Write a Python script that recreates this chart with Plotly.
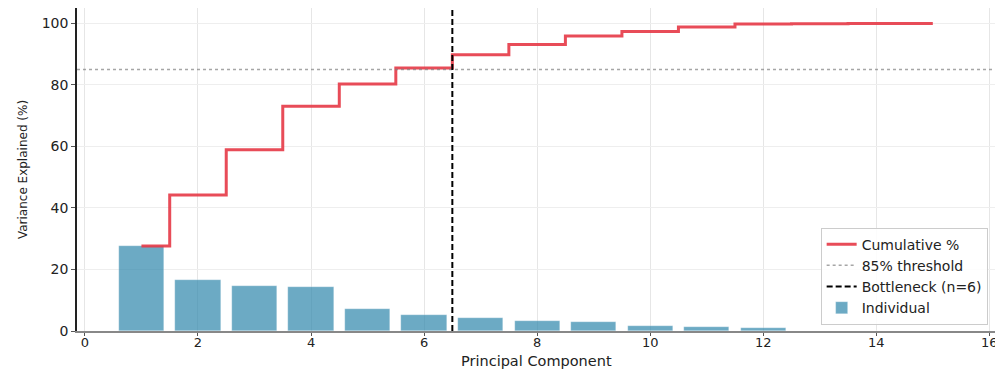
import numpy as np
import plotly.graph_objects as go

# Explained variance per principal component (%)
components = list(range(1, 16))
individual = [27.6, 16.6, 14.7, 14.2, 7.2, 5.2, 4.3, 3.3, 2.8, 1.5, 1.4, 1.0, 0.1, 0.05, 0.05]
cumulative = np.round(np.cumsum(individual), 2).tolist()

threshold = 85
bottleneck_n = 6

x_range = [-0.14, 16.10]
y_range = [0, 105]
x_ticks = [0, 2, 4, 6, 8, 10, 12, 14, 16]
y_ticks = [0, 20, 40, 60, 80, 100]

FONT = "DejaVu Sans"

fig = go.Figure()

fig.add_trace(go.Bar(
    x=components, y=individual, width=0.8, name="Individual",
    marker=dict(color="rgba(46,134,171,0.7)", line=dict(color="rgba(255,255,255,0.5)", width=0.5)),
    legendrank=4,
))

fig.add_trace(go.Scatter(
    x=components, y=cumulative, mode="lines", line_shape="hvh",
    name="Cumulative %", line=dict(color="rgba(230,57,70,0.9)", width=3),
    legendrank=1,
))

fig.add_trace(go.Scatter(
    x=x_range, y=[threshold, threshold], mode="lines", name="85% threshold",
    line=dict(color="rgba(128,128,128,0.7)", width=1.5, dash="dot"),
    legendrank=2,
))

fig.add_trace(go.Scatter(
    x=[bottleneck_n + 0.5, bottleneck_n + 0.5], y=y_range, mode="lines",
    name=f"Bottleneck (n={bottleneck_n})",
    line=dict(color="black", width=2, dash="6px,3px"),
    legendrank=3,
))

fig.update_layout(
    width=995, height=369,
    margin=dict(l=77, r=0, t=8, b=38, autoexpand=False),
    plot_bgcolor="white", paper_bgcolor="white",
    font=dict(family=FONT, color="#222"),
    bargap=0,
    legend=dict(
        x=0.992, y=0.02, xanchor="right", yanchor="bottom",
        bgcolor="rgba(255,255,255,0.85)", bordercolor="#cccccc", borderwidth=1,
        font=dict(family=FONT, size=14, color="#222"),
        tracegroupgap=0,
    ),
    showlegend=True,
    annotations=[dict(
        text="Principal Component", xref="paper", yref="paper",
        x=0.5, y=-0.0915, xanchor="center", yanchor="middle", showarrow=False,
        font=dict(family=FONT, size=14.5, color="#222"),
    )],
)

fig.update_xaxes(
    range=x_range, tickvals=x_ticks, ticks="outside", ticklen=3, tickcolor="#555",
    tickfont=dict(family=FONT, size=13, color="#222"), ticklabeloverflow="allow",
    ticklabelstandoff=-5,
    showgrid=True, gridcolor="#e6e6e6", gridwidth=1, automargin=False,
    showline=True, linecolor="#888888", linewidth=2, zeroline=False,
)
fig.update_yaxes(
    range=y_range, tickvals=y_ticks, ticks="outside", ticklen=4, tickcolor="#555",
    tickfont=dict(family=FONT, size=14, color="#222"), automargin=False,
    showgrid=True, gridcolor="#eeeeee", gridwidth=1,
    showline=True, linecolor="#222", linewidth=1.5, zeroline=False,
    title=dict(text="Variance Explained (%)", font=dict(family=FONT, size=12, color="#222"), standoff=12),
)

fig.write_html("out.html")
